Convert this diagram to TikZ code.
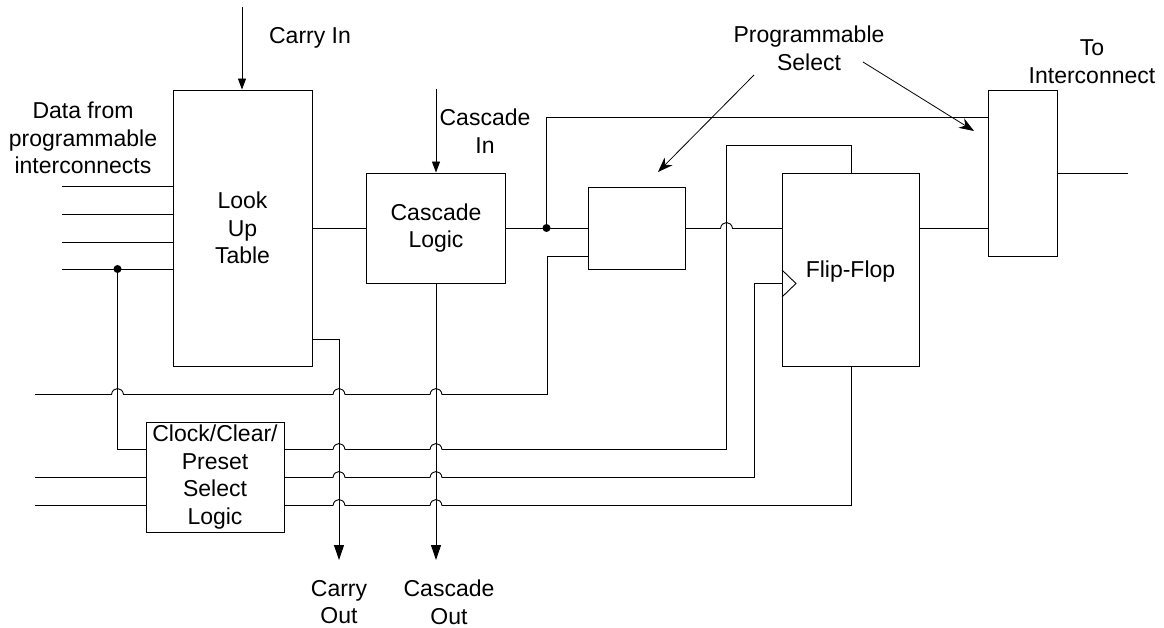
\documentclass[tikz,border=0pt]{standalone}
\usepackage{fontspec}
\setmainfont{Liberation Sans}
\usetikzlibrary{arrows.meta}
\tikzset{
  wire/.style={draw=black,line width=0.9pt},
  arrowwire/.style={wire,-{Triangle[length=15pt,width=10pt,color=black]}},
  arrowsmall/.style={wire,-{Triangle[length=11pt,width=8pt,color=black]}},
  hop/.style args={#1,#2}{insert path={-- (#1-6,#2) .. controls (#1-5,#2-8) and (#1+5,#2-8) .. (#1+6,#2)}},
  boxn/.style={draw=black,line width=0.9pt,fill=white,inner sep=0pt,align=center,font=\fontsize{23}{27.7}\selectfont},
  lab/.style={inner sep=0pt,align=center,font=\fontsize{23}{27.7}\selectfont},
  dot/.style={circle,fill=black,inner sep=0pt,minimum size=8pt},
  pointer/.style={draw=black,line width=0.8pt,-{Stealth[length=15pt,width=11pt]}}
}
\begin{document}
\begin{tikzpicture}[x=1pt,y=-1pt]
\useasboundingbox (0,0) rectangle (1164,628);
% free ends and junctions
\coordinate (d1) at (62,186);
\coordinate (d2) at (62,214);
\coordinate (d3) at (62,242);
\coordinate (d4) at (62,269);
\coordinate (selin) at (35,394.5);
\coordinate (c2in) at (35,477);
\coordinate (c3in) at (35,505);
\coordinate (carryintop) at (242,7);
\coordinate (carrytip) at (339,560);
\coordinate (casctip) at (436,560);
\coordinate (outend) at (1128,173);
\coordinate (ps1s) at (754,75);
\coordinate (ps1e) at (658,172);
\coordinate (ps2s) at (863,62);
\coordinate (ps2e) at (974,131);
\coordinate (casctop) at (436,89);
% wires below boxes
\draw[wire] (d1) -- (173,186);
\draw[wire] (d2) -- (173,214);
\draw[wire] (d3) -- (173,242);
\draw[wire] (d4) -- (173,269);
\node[dot] (j1) at (117.5,269) {};
\node[dot] (j2) at (546.5,228) {};
% boxes
\node[boxn,minimum width=139pt,minimum height=276pt] (lut) at (242.5,228) {Look\\Up\\Table};
\node[boxn,minimum width=139pt,minimum height=110pt] (casc) at (436,228) {Cascade\\Logic};
\node[boxn,minimum width=97pt,minimum height=82pt] (mux1) at (636.5,228) {};
\node[boxn,minimum width=137pt,minimum height=193pt,text depth=0pt] (ff) at (850.5,269.5) {Flip-Flop};
\node[boxn,minimum width=69pt,minimum height=166pt] (mux2) at (1022.5,173) {};
\node[boxn,minimum width=138pt,minimum height=110pt] (clk) at (215,477) {Clock/Clear/\\Preset\\Select\\Logic};
% connectors
\draw[arrowsmall] (carryintop) -- (lut.north -| carryintop);
\draw[arrowsmall] (casctop) -- (casc.north);
\draw[wire] (lut.east) -- (casc.west);
\draw[wire] (casc.east) -- (mux1.west);
\draw[wire] (685,228.5) [hop={726.5,228.5}] -- (782,228.5);
\draw[wire] (919,228) -- (988,228);
\draw[wire] (j2) -- (546.5,117) -- (988,117);
\draw[wire] (j1) -- (117.5,449) -- (146,449);
\draw[wire] (selin) [hop={117.5,394.5}] [hop={339,394.5}] [hop={436,394.5}] -- (547.5,394.5) -- (547.5,256.5) -- (588,256.5);
\draw[wire] (c2in) -- (clk.west);
\draw[wire] (c3in) -- (146,505);
\draw[wire] (284,449.5) [hop={339,449.5}] [hop={436,449.5}] -- (726.5,449.5) -- (726.5,145.5) -- (851.5,145.5) -- (851.5,173);
\draw[wire] (284,477.5) [hop={339,477.5}] [hop={436,477.5}] -- (754.5,477.5) -- (754.5,283.5) -- (782,283.5);
\draw[wire] (284,505.5) [hop={339,505.5}] [hop={436,505.5}] -- (851.5,505.5) -- (851.5,366);
\draw[arrowwire] (312,339) -- (339,339) -- (carrytip);
\draw[arrowwire] (casc.south) -- (casctip);
\draw[wire] (1057,173) -- (outend);
\draw[wire] (782,270) -- (796,283.5) -- (782,297);
\draw[pointer] (ps1s) -- (ps1e);
\draw[pointer] (ps2s) -- (ps2e);
% labels
\node[lab,text depth=0pt] (t1) at (310,35) {Carry In};
\node[lab] (t2) at (83,138) {Data from\\programmable\\interconnects};
\node[lab] (t3) at (485,131) {Cascade\\In};
\node[lab] (t4) at (809,48) {Programmable\\Select};
\node[lab] (t5) at (1092,62) {To\\Interconnect};
\node[lab] (t6) at (339,602) {Carry\\Out};
\node[lab] (t7) at (449,602) {Cascade\\Out};
\end{tikzpicture}
\end{document}
